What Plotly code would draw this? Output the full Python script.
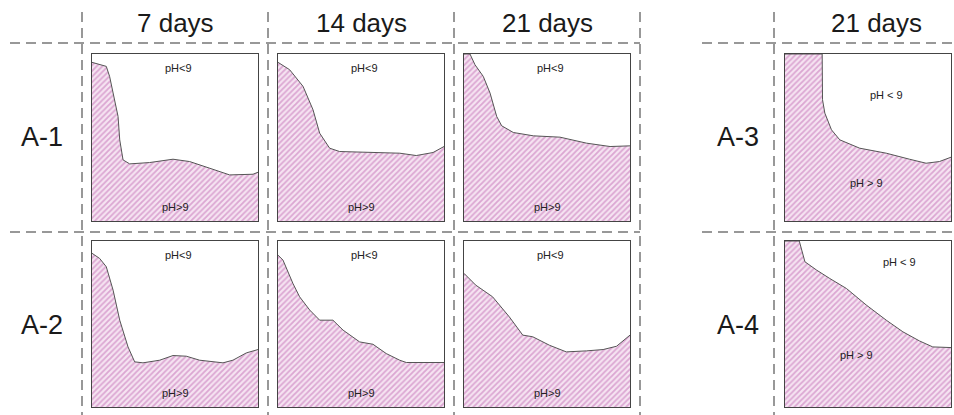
import plotly.graph_objects as go

W, H = 954, 415

# ---- data (fraction of panel width / height) ----
col_titles = ["7 days", "14 days", "21 days", "21 days"]
row_titles = ["A-1", "A-2", "A-3", "A-4"]

a1_7_x = [0, 0.086, 0.106, 0.137, 0.157, 0.167, 0.187, 0.227, 0.347, 0.488, 0.588, 0.709, 0.829, 0.970, 1.0]
a1_7_y = [0.95, 0.926, 0.866, 0.726, 0.626, 0.486, 0.366, 0.342, 0.35, 0.37, 0.356, 0.316, 0.276, 0.28, 0.292]

a1_14_x = [0, 0.07, 0.151, 0.211, 0.251, 0.311, 0.371, 0.532, 0.733, 0.833, 0.934, 1.0]
a1_14_y = [0.95, 0.906, 0.806, 0.666, 0.526, 0.436, 0.416, 0.41, 0.406, 0.392, 0.41, 0.446]

a1_21_x = [0, 0.036, 0.066, 0.116, 0.157, 0.197, 0.227, 0.297, 0.418, 0.578, 0.739, 0.88, 1.0]
a1_21_y = [1.0, 1.0, 0.936, 0.866, 0.766, 0.626, 0.57, 0.53, 0.51, 0.502, 0.466, 0.446, 0.45]

a3_21_x = [0, 0.224, 0.226, 0.24, 0.28, 0.33, 0.45, 0.61, 0.75, 0.85, 0.93, 1.0]
a3_21_y = [1.0, 1.0, 0.726, 0.646, 0.546, 0.486, 0.436, 0.406, 0.37, 0.346, 0.356, 0.382]

a2_7_x = [0, 0.046, 0.086, 0.127, 0.167, 0.217, 0.257, 0.307, 0.408, 0.488, 0.568, 0.648, 0.789, 0.849, 0.93, 1.0]
a2_7_y = [0.926, 0.895, 0.845, 0.704, 0.523, 0.362, 0.272, 0.266, 0.282, 0.31, 0.306, 0.282, 0.266, 0.282, 0.326, 0.346]

a2_14_x = [0, 0.03, 0.09, 0.13, 0.191, 0.251, 0.331, 0.392, 0.492, 0.572, 0.652, 0.733, 0.773, 1.0]
a2_14_y = [0.915, 0.885, 0.744, 0.664, 0.584, 0.523, 0.523, 0.463, 0.392, 0.378, 0.322, 0.282, 0.268, 0.268]

a2_21_x = [0, 0.071, 0.172, 0.273, 0.354, 0.414, 0.515, 0.616, 0.737, 0.838, 0.919, 1.0]
a2_21_y = [0.805, 0.734, 0.664, 0.543, 0.433, 0.423, 0.372, 0.332, 0.338, 0.346, 0.366, 0.433]

a4_21_x = [0, 0.086, 0.12, 0.19, 0.27, 0.37, 0.49, 0.61, 0.71, 0.81, 0.89, 1.0]
a4_21_y = [1.0, 1.0, 0.875, 0.825, 0.774, 0.714, 0.614, 0.523, 0.453, 0.398, 0.362, 0.358]

low_label = ["pH<9", "pH<9", "pH<9", "pH < 9", "pH<9", "pH<9", "pH<9", "pH < 9"]
high_label = ["pH>9", "pH>9", "pH>9", "pH > 9", "pH>9", "pH>9", "pH>9", "pH > 9"]
low_pos = [(0.52, 0.915), (0.52, 0.915), (0.52, 0.915), (0.61, 0.756),
           (0.52, 0.915), (0.52, 0.915), (0.52, 0.915), (0.69, 0.875)]
high_pos = [(0.5, 0.082), (0.5, 0.082), (0.5, 0.082), (0.49, 0.226),
            (0.5, 0.085), (0.5, 0.085), (0.5, 0.085), (0.43, 0.312)]

curves = [(a1_7_x, a1_7_y), (a1_14_x, a1_14_y), (a1_21_x, a1_21_y), (a3_21_x, a3_21_y),
          (a2_7_x, a2_7_y), (a2_14_x, a2_14_y), (a2_21_x, a2_21_y), (a4_21_x, a4_21_y)]

# ---- layout geometry (pixels) ----
panel_x_px = [(92, 258), (278, 444), (464, 630), (785, 951)]
panel_y_px = [(54, 221), (241, 407)]

def px_x(p):
    return p / W

def px_y(p):
    return 1 - p / H

fig = go.Figure()
layout = dict(
    width=W, height=H, margin=dict(l=0, r=0, t=0, b=0),
    paper_bgcolor="white", plot_bgcolor="white", showlegend=False,
    font=dict(family="Arial, Liberation Sans, sans-serif", color="#222"),
)
annotations = []
shapes = []

for i, (cx, cy) in enumerate(curves):
    r, c = divmod(i, 4)
    n = i + 1
    xa = "xaxis" if n == 1 else f"xaxis{n}"
    ya = "yaxis" if n == 1 else f"yaxis{n}"
    xr = "x" if n == 1 else f"x{n}"
    yr = "y" if n == 1 else f"y{n}"
    x0, x1 = panel_x_px[c]
    y0, y1 = panel_y_px[r]
    axstyle = dict(range=[0, 1], showgrid=False, zeroline=False, showticklabels=False,
                   ticks="", showline=True, mirror=True, linecolor="#444", linewidth=1,
                   fixedrange=True)
    layout[xa] = dict(domain=[px_x(x0), px_x(x1)], anchor=yr, **axstyle)
    layout[ya] = dict(domain=[px_y(y1), px_y(y0)], anchor=xr, **axstyle)
    fig.add_trace(go.Scatter(
        x=cx, y=cy, xaxis=xr, yaxis=yr, mode="lines", fill="tozeroy",
        line=dict(color="#555", width=1),
        fillcolor="#f3e2ef",
        fillpattern=dict(shape="/", fgcolor="#dba6d2", bgcolor="#f6e4f2",
                         size=4, solidity=0.45, fillmode="replace"),
        hoverinfo="skip",
    ))
    lx, ly = low_pos[i]
    hx, hy = high_pos[i]
    annotations.append(dict(x=lx, y=ly, xref=xr, yref=yr, text=low_label[i],
                            xanchor="center", yanchor="middle",
                            showarrow=False, font=dict(size=11, color="#222")))
    annotations.append(dict(x=hx, y=hy, xref=xr, yref=yr, text=high_label[i],
                            xanchor="center", yanchor="middle",
                            showarrow=False, font=dict(size=11, color="#222")))

# column titles
col_centers_px = [175, 361, 547, 876]
for t, cxp in zip(col_titles, col_centers_px):
    annotations.append(dict(x=px_x(cxp), y=px_y(23), xref="paper", yref="paper",
                            text=t, showarrow=False, xanchor="center", yanchor="middle",
                            font=dict(size=26, color="#1a1a1a")))
# row titles
row_pos_px = [(42, 137), (42, 325), (738, 137), (738, 325)]
for t, (rx, ry) in zip(row_titles, row_pos_px):
    annotations.append(dict(x=px_x(rx), y=px_y(ry), xref="paper", yref="paper",
                            text=t, showarrow=False, xanchor="center", yanchor="middle",
                            font=dict(size=27, color="#1a1a1a")))

# dashed grid lines
dash_line = dict(color="#777", width=1.5, dash="10px,6px")
for vx in [82, 268, 454, 640, 774]:
    shapes.append(dict(type="line", xref="paper", yref="paper",
                       x0=px_x(vx), x1=px_x(vx), y0=px_y(12), y1=px_y(415), line=dash_line))
for hy in [43, 232]:
    shapes.append(dict(type="line", xref="paper", yref="paper",
                       x0=px_x(10), x1=px_x(640), y0=px_y(hy), y1=px_y(hy), line=dash_line))
    shapes.append(dict(type="line", xref="paper", yref="paper",
                       x0=px_x(702), x1=px_x(954), y0=px_y(hy), y1=px_y(hy), line=dash_line))

layout["annotations"] = annotations
layout["shapes"] = shapes
fig.update_layout(**layout)
fig.write_html("out.html", config={"displayModeBar": False},
               post_script="document.body.style.margin='0';document.body.style.overflow='hidden';")
